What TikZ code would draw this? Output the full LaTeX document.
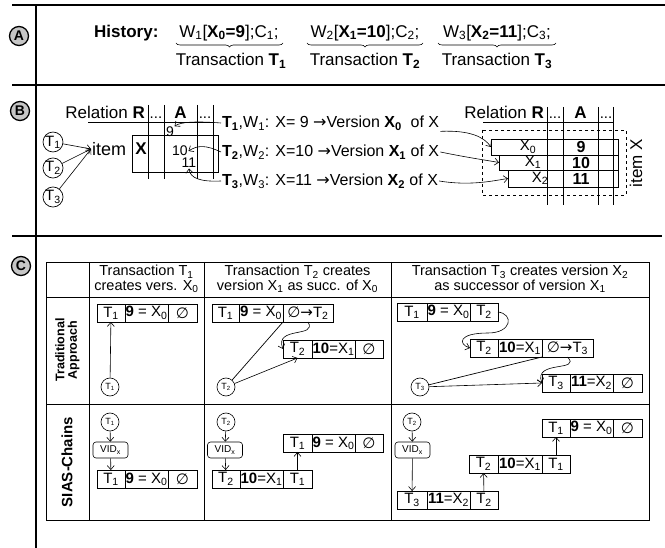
\documentclass[tikz,border=0pt]{standalone}
\usepackage{fontspec}
\setmainfont{Liberation Sans}
\newfontfamily\dv{DejaVu Sans}
\usetikzlibrary{arrows.meta,decorations.pathreplacing}
\newcommand{\myra}{{\dv\char"2192}}
\newcommand{\myes}{{\dv\char"2205}}
\newcommand{\sbs}[1]{\textsubscript{#1}}
\newcommand{\fs}[1]{\fontsize{#1}{#1}\selectfont}
\newcommand{\rec}[9]{%
 \node[cell, minimum width=#4, anchor=north west] (#1a) at (#2,#3) {#7};
 \node[cell, minimum width=#5, anchor=north west] (#1b) at (#1a.north east) {#8};
 \node[cell, minimum width=#6, anchor=north west] (#1c) at (#1b.north east) {#9};}
\begin{document}
\begin{tikzpicture}[x=1pt,y=-1pt,
 cell/.style={draw, line width=0.8pt, inner sep=0pt, outer sep=0pt, minimum height=18, font=\fs{15}},
 tc/.style={circle, draw, line width=0.6pt, minimum size=18, inner sep=0pt, font=\fs{9}},
 vid/.style={draw, rounded corners=3pt, line width=0.6pt, minimum width=35, minimum height=16, inner sep=0pt, font=\fs{10}},
 bt/.style={circle, draw, line width=0.7pt, minimum size=17, inner sep=0pt, font=\fs{15}},
 lett/.style={circle, draw, line width=1.3pt, fill=gray!45, minimum size=19, inner sep=0pt, font=\bfseries\fs{14}},
 arr/.style={-{Straight Barb[length=4pt,width=7pt]}, line width=0.6pt},
 thickrule/.style={line width=1.6pt},
 thin/.style={line width=0.7pt},
 brc/.style={decorate, decoration={brace, mirror, amplitude=4pt}, line width=0.6pt},
 txt/.style={inner sep=1pt}
]
\useasboundingbox (0,0) rectangle (665,548);
% frame
\draw[thickrule] (12,5) -- (665,5);
\draw[thickrule] (36,5) -- (36,548);
\draw[thickrule] (12,85) -- (665,85);
\draw[thickrule] (12,236) -- (662,236);
\node[lett] (cA) at (19,36) {A};
\node[lett] (cB) at (20,111) {B};
\node[lett] (cC) at (21,266) {C};
% ---------- A
\node[txt, font=\bfseries\fs{17}, anchor=west] (hist) at (93,33) {History:};
\node[txt, font=\fs{17}] (w1) at (229,33) {W\sbs{1}[\textbf{X\sbs{0}=9}];C\sbs{1};};
\node[txt, font=\fs{17}] (w2) at (365,33) {W\sbs{2}[\textbf{X\sbs{1}=10}];C\sbs{2};};
\node[txt, font=\fs{17}] (w3) at (497,33) {W\sbs{3}[\textbf{X\sbs{2}=11}];C\sbs{3};};
\draw[brc] (176,43) -- (283,43);
\draw[brc] (307,43) -- (423,43);
\draw[brc] (438,43) -- (556,43);
\node[txt, font=\fs{17}] (tr1) at (231,61) {Transaction \textbf{T\sbs{1}}};
\node[txt, font=\fs{17}] (tr2) at (365,61) {Transaction \textbf{T\sbs{2}}};
\node[txt, font=\fs{17}] (tr3) at (497,61) {Transaction \textbf{T\sbs{3}}};
% ---------- B left
\node[txt, font=\fs{17}, anchor=base east] (relL) at (146,119) {Relation \textbf{R}};
\node[txt, font=\fs{15}, anchor=base] (dl1) at (156,119) {...};
\node[txt, font=\bfseries\fs{17}, anchor=base] (aL) at (180.5,119) {A};
\node[txt, font=\fs{15}, anchor=base] (dl2) at (205,119) {...};
\foreach \xx in {148,164,197,213} \draw[thin] (\xx,105) -- (\xx,179);
\draw[thin] (88,122) -- (213,122);
\draw[thin] (132,135) rectangle (218,172);
\node[txt, font=\bfseries\fs{17}] (bX) at (141,149) {X};
\node[txt, font=\fs{18}, anchor=west] (item) at (91,149) {item};
\node[inner sep=0.5pt, font=\fs{14}] (n9) at (170,132) {9};
\node[inner sep=0.5pt, font=\fs{14}] (n10) at (180,151) {10};
\node[inner sep=0.5pt, font=\fs{14}] (n11) at (189,163) {11};
\node[bt] (bt1) at (53,142) {T\sbs{1}};
\node[bt] (bt2) at (53,168) {T\sbs{2}};
\node[bt] (bt3) at (53,197) {T\sbs{3}};
\draw[arr] (bt1) -- (item.west);
\draw[arr] (bt2) -- (item.west);
\draw[arr] (bt3) -- (item.west);
\node[txt, font=\fs{16}, anchor=west] (l1) at (221,123) {\textbf{T\sbs{1}},W\sbs{1}: X= 9 \myra Version \textbf{X\sbs{0}}\ \ of X};
\node[txt, font=\fs{16}, anchor=west] (l2) at (221,152) {\textbf{T\sbs{2}},W\sbs{2}: X=10 \myra Version \textbf{X\sbs{1}} of X};
\node[txt, font=\fs{16}, anchor=west] (l3) at (221,181) {\textbf{T\sbs{3}},W\sbs{3}: X=11 \myra Version \textbf{X\sbs{2}} of X};
\draw[arr] (l1.west) .. controls (195,121) and (180,122) .. (n9.north east);
\draw[arr] (l2.west) .. controls (206,145) and (198,145) .. (n10.east);
\draw[arr] (l3.west) .. controls (200,182) and (190,178) .. (n11.south);
% ---------- B right
\node[txt, font=\fs{17}, anchor=base east] (relR) at (545,119) {Relation \textbf{R}};
\node[txt, font=\fs{15}, anchor=base] (dr1) at (555,119) {...};
\node[txt, font=\bfseries\fs{17}, anchor=base] (aR) at (580.5,119) {A};
\node[txt, font=\fs{15}, anchor=base] (dr2) at (606,119) {...};
\draw[thin] (483,122) -- (613,122);
\draw[thin, dashed] (482,130) rectangle (626,195);
\node[draw, thin, minimum width=127, minimum height=16, inner sep=0pt, outer sep=0pt, anchor=north west] (r0) at (491,139) {};
\node[draw, thin, minimum width=119, minimum height=15, inner sep=0pt, outer sep=0pt, anchor=north west] (r1) at (499,155) {};
\node[draw, thin, minimum width=110, minimum height=17, inner sep=0pt, outer sep=0pt, anchor=north west] (r2) at (508,170) {};
\foreach \xx in {547,563,598,613} \draw[thin] (\xx,107) -- (\xx,205);
\node[inner sep=0pt, font=\fs{15}] (x0) at (528,147) {X\sbs{0}};
\node[inner sep=0pt, font=\fs{15}] (x1) at (533,162.5) {X\sbs{1}};
\node[inner sep=0pt, font=\fs{15}] (x2) at (540,178.5) {X\sbs{2}};
\node[inner sep=0pt, font=\bfseries\fs{16}] (v9) at (581,147) {9};
\node[inner sep=0pt, font=\bfseries\fs{16}] (v10) at (581,162.5) {10};
\node[inner sep=0pt, font=\bfseries\fs{16}] (v11) at (581,178.5) {11};
\node[txt, font=\fs{17}, rotate=90] (itemX) at (636,163) {item X};
\draw[arr] (l1.south east) .. controls (470,130) and (484,137) .. (r0.west);
\draw[arr] (l2.east) .. controls (470,158) and (485,160) .. (r1.west);
\draw[arr] (l3.east) .. controls (470,186) and (492,181) .. (r2.west);
% ---------- C table
\draw[thin] (46,262) rectangle (649,520);
\draw[thin] (46,297) -- (649,297);
\draw[thin] (46,404) -- (649,404);
\foreach \xx in {89,204,391} \draw[thin] (\xx,262) -- (\xx,520);
\node[txt, font=\fs{14.5}, align=center] (h1) at (146.5,279) {Transaction T\sbs{1}\\creates vers. X\sbs{0}};
\node[txt, font=\fs{14.5}, align=center] (h2) at (297.5,279) {Transaction T\sbs{2} creates\\version X\sbs{1} as succ. of X\sbs{0}};
\node[txt, font=\fs{14.5}, align=center] (h3) at (520,279) {Transaction T\sbs{3} creates version X\sbs{2}\\as successor of version X\sbs{1}};
\node[txt, font=\bfseries\fs{12.5}, align=center, rotate=90] (rl1) at (67.5,350) {Traditional\\Approach};
\node[txt, font=\bfseries\fs{15}, rotate=90] (rl2) at (67,462) {SIAS-Chains};
% traditional col 1
\rec{a}{97}{304}{28}{43}{29}{T\sbs{1}}{\textbf{9} = X\sbs{0}}{\myes}
\node[tc] (ta1) at (110,387) {T\sbs{1}};
\draw[arr] (ta1) -- (aa);
% traditional col 2
\rec{b}{212}{304}{27}{44}{50}{T\sbs{1}}{\textbf{9} = X\sbs{0}}{\myes\myra T\sbs{2}}
\rec{c}{283}{340}{29}{43}{28}{T\sbs{2}}{\textbf{10}=X\sbs{1}}{\myes}
\node[tc] (tb2) at (226,387) {T\sbs{2}};
\draw[thin] (tb2) -- (bc.south west);
\draw[arr] (tb2) -- (ca.south);
\draw[arr] (bc.south) .. controls (318,338) and (274,326) .. (ca.west);
% traditional col 3
\rec{d}{397}{303}{30}{43}{28}{T\sbs{1}}{\textbf{9} = X\sbs{0}}{T\sbs{2}}
\rec{e}{470}{339}{28}{44}{51}{T\sbs{2}}{\textbf{10}=X\sbs{1}}{\myes\myra T\sbs{3}}
\rec{f}{542}{374}{28}{43}{29}{T\sbs{3}}{\textbf{11}=X\sbs{2}}{\myes}
\node[tc] (tc3) at (420,387) {T\sbs{3}};
\draw[thin] (tc3) -- (ec.south west);
\draw[arr] (tc3) -- (fa.west);
\draw[arr] (dc.east) .. controls (514,314) and (512,333) .. (488,333) .. controls (458,333) and (458,344) .. (ea.west);
\draw[arr] (ec.south) .. controls (582,372) and (533,360) .. (fa.west);
% SIAS col 1
\node[tc] (sa1) at (110,422) {T\sbs{1}};
\node[vid] (va) at (110.5,450) {VID\sbs{x}};
\rec{g}{97}{470}{28}{43}{29}{T\sbs{1}}{\textbf{9} = X\sbs{0}}{\myes}
\draw[arr] (sa1) -- (va);
\draw[arr] (va) -- (ga);
% SIAS col 2
\node[tc] (sb2) at (226,422) {T\sbs{2}};
\node[vid] (vb) at (225,450) {VID\sbs{x}};
\rec{h}{212}{470}{28}{43}{29}{T\sbs{2}}{\textbf{10}=X\sbs{1}}{T\sbs{1}}
\rec{i}{283}{434}{29}{43}{28}{T\sbs{1}}{\textbf{9} = X\sbs{0}}{\myes}
\draw[arr] (sb2) -- (vb);
\draw[arr] (vb) -- (ha);
\draw[arr] (hc) -- (ia);
% SIAS col 3
\node[tc] (sc2) at (412,422) {T\sbs{2}};
\node[vid] (vc) at (412.5,450) {VID\sbs{x}};
\rec{j}{397}{491}{30}{43}{28}{T\sbs{3}}{\textbf{11}=X\sbs{2}}{T\sbs{2}}
\rec{k}{469}{455}{29}{44}{28}{T\sbs{2}}{\textbf{10}=X\sbs{1}}{T\sbs{1}}
\rec{l}{542}{419}{28}{43}{29}{T\sbs{1}}{\textbf{9} = X\sbs{0}}{\myes}
\draw[arr] (sc2) -- (vc);
\draw[arr] (vc) -- (ja);
\draw[arr] (jc) -- (ka);
\draw[arr] (kc) -- (la);
\end{tikzpicture}
\end{document}
